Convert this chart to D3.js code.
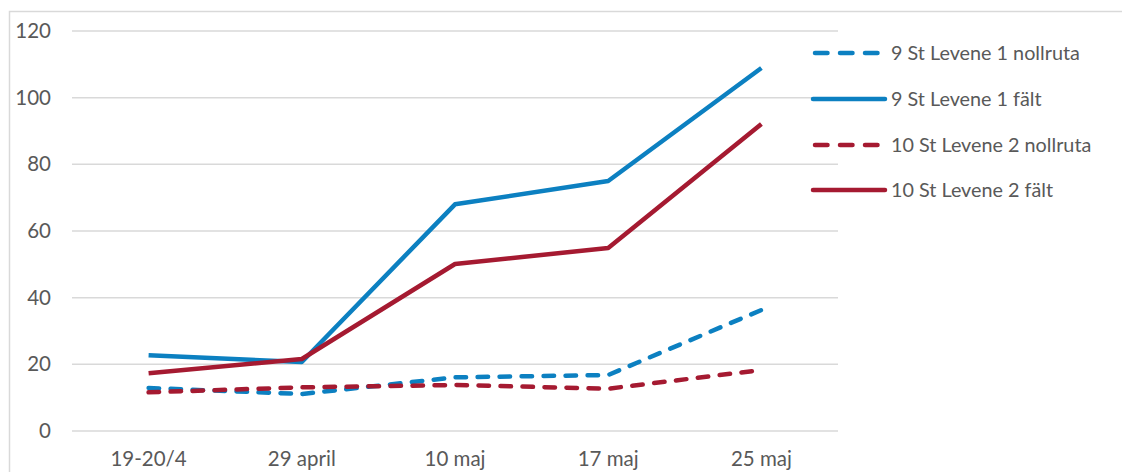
<!DOCTYPE html>
<html><head><meta charset="utf-8">
<script src="https://cdn.jsdelivr.net/npm/d3@7"></script>
<style>body{margin:0;background:#fff}svg{display:block}</style>
</head><body>
<svg id="c" width="1122" height="472"></svg>
<script>
const categories = ["19-20/4","29 april","10 maj","17 maj","25 maj"];
const yTicks = [0,20,40,60,80,100,120];
const seriesNames = ["9 St Levene 1 nollruta","9 St Levene 1 fält","10 St Levene 2 nollruta","10 St Levene 2 fält"];
const blueNoll = [12.9, 11.1, 16.1, 16.8, 36.3];
const blueFalt = [22.7, 20.7, 68.0, 75.0, 108.9];
const redNoll = [11.6, 13.1, 13.8, 12.7, 18.3];
const redFalt = [17.3, 21.6, 50.1, 54.9, 92.1];

const seriesValues = [blueNoll, blueFalt, redNoll, redFalt];
const colors = ["#0C80C1","#0C80C1","#A51A31","#A51A31"];
const dashed = [true,false,true,false];

const svg = d3.select("#c");
const font = "Lato, 'Open Sans', sans-serif";

svg.append("rect").attr("x",9.5).attr("y",11.5).attr("width",1130).attr("height",480)
  .attr("fill","none").attr("stroke","#d9d9d9").attr("stroke-width",1.5);

const x = d3.scaleBand().domain(categories).range([72,838]);
const y = d3.scaleLinear().domain([0,120]).range([431,31]);

const grid = svg.append("g");
yTicks.forEach(t=>{
  grid.append("line").attr("x1",72).attr("x2",838).attr("y1",y(t)).attr("y2",y(t))
    .attr("stroke","#d9d9d9").attr("stroke-width",1.5);
});

const yAxis = svg.append("g").attr("transform","translate(51,0)")
  .call(d3.axisLeft(y).tickValues(yTicks).tickSize(0).tickPadding(0));
yAxis.select(".domain").remove();
yAxis.selectAll("text").attr("font-family",font).attr("font-size",20.5).attr("fill","#595959");

const xAxis = svg.append("g").attr("transform","translate(0,448)")
  .call(d3.axisBottom(x).tickSize(0).tickPadding(0));
xAxis.select(".domain").remove();
xAxis.selectAll("text").attr("font-family",font).attr("font-size",20.5).attr("fill","#595959").attr("dy","0.9em");

const line = d3.line().x((d,i)=>x(categories[i])+x.bandwidth()/2).y(d=>y(d));
seriesValues.forEach((vals,i)=>{
  svg.append("path").datum(vals).attr("d",line).attr("fill","none")
    .attr("stroke",colors[i]).attr("stroke-width",4.5)
    .attr("stroke-linecap", dashed[i] ? "round" : "butt")
    .attr("stroke-linejoin","round")
    .attr("stroke-dasharray", dashed[i] ? "10.5,11.5" : null);
});

const legY = [53,99,145,190];
seriesNames.forEach((n,i)=>{
  const g = svg.append("g");
  if (dashed[i]) {
    g.append("line").attr("x1",815).attr("x2",878).attr("y1",legY[i]).attr("y2",legY[i])
      .attr("stroke",colors[i]).attr("stroke-width",4.5).attr("stroke-linecap","round")
      .attr("stroke-dasharray","12.5,12.5");
  } else {
    g.append("line").attr("x1",813).attr("x2",885).attr("y1",legY[i]).attr("y2",legY[i])
      .attr("stroke",colors[i]).attr("stroke-width",4.5).attr("stroke-linecap","round");
  }
  g.append("text").attr("x",891).attr("y",legY[i]).attr("dy","0.35em")
    .attr("font-family",font).attr("font-size",19.8).attr("fill","#595959").text(n);
});
</script>
</body></html>
